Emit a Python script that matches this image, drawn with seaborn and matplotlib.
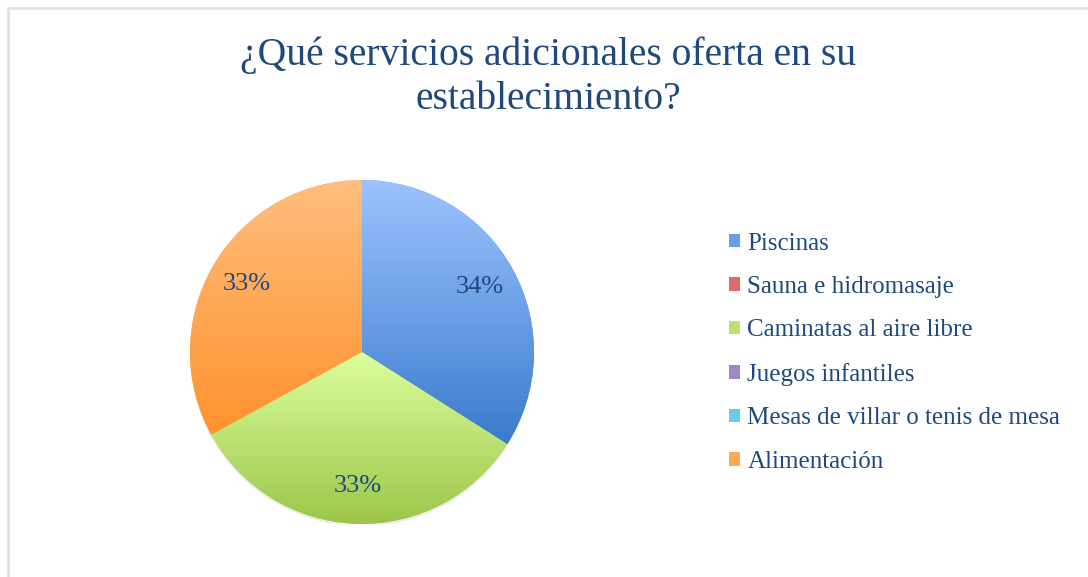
import matplotlib
matplotlib.use("Agg")
from matplotlib import pyplot as plt
from matplotlib.patches import Patch, Rectangle
from matplotlib.colors import LinearSegmentedColormap
import seaborn as sns
import numpy as np

servicios = ['Piscinas', 'Sauna e hidromasaje', 'Caminatas al aire libre',
             'Juegos infantiles', 'Mesas de villar o tenis de mesa', 'Alimentación']
porcentajes = [34, 0, 33, 0, 0, 33]

# (claro arriba, oscuro abajo) para el degradado de cada sector
claro = ['#9dc3ff', '#f59a98', '#dcff9d', '#c9b2ea', '#9fe6fa', '#ffbe7e']
oscuro = ['#3a7bcc', '#c9403c', '#9cc64a', '#7b5aa6', '#35aed0', '#ff922c']
medio = ['#6a9ee6', '#e06a67', '#bde273', '#a186c8', '#69cbe5', '#ffa855']

sns.set_theme(style="white")
plt.rcParams['font.family'] = ['Liberation Serif', 'DejaVu Serif']
texto = '#1f497d'

fig = plt.figure(figsize=(10.88, 5.77), dpi=100)
W, H = 1088, 577

# marco del grafico
fig.patches.append(Rectangle((8 / W, -0.1), 1.2, 1 - 8 / H + 0.1, transform=fig.transFigure,
                             fill=False, edgecolor='#d9e4f2', linewidth=2))

cx, cy, r = 362, 352, 172
ax = fig.add_axes([(cx - r) / W, (H - cy - r) / H, 2 * r / W, 2 * r / H])


def etiqueta(p):
    return '' if p < 0.5 else f'{p:.0f}%'


wedges, textos, autos = ax.pie(porcentajes, startangle=90, counterclock=False,
                               colors=medio, autopct=etiqueta, pctdistance=0.78,
                               textprops=dict(color=texto, fontsize=19))
ax.set_aspect('equal')

# sombra suave
sombra = plt.Circle((0.0, -0.015), 0.995, color='#000000', alpha=0.05, zorder=0)
ax.add_patch(sombra)

for w, c1, c2 in zip(wedges, claro, oscuro):
    w.set_edgecolor('none')
    if w.theta2 - w.theta1 < 0.01:
        continue
    ang = np.radians(np.linspace(w.theta1, w.theta2, 100))
    xs = np.concatenate([[0], np.cos(ang)])
    ys = np.concatenate([[0], np.sin(ang)])
    cmap = LinearSegmentedColormap.from_list('g', [c2, c1])
    grad = np.linspace(0, 1, 256).reshape(-1, 1)
    im = ax.imshow(grad, cmap=cmap, origin='lower', aspect='auto',
                   extent=[xs.min(), xs.max(), ys.min(), ys.max()], zorder=1)
    im.set_clip_path(w)
for t in autos:
    t.set_zorder(3)

ax.set_xlim(-1, 1)
ax.set_ylim(-1, 1)
ax.axis('off')

fig.text(548 / W, 1 - 77 / H, '¿Qué servicios adicionales oferta en su\nestablecimiento?',
         ha='center', va='center', fontsize=28.5, color=texto, linespacing=1.25)

handles = [Patch(facecolor=c, edgecolor='none') for c in medio]
leg = fig.legend(handles, servicios, loc='upper left', bbox_to_anchor=(716 / W, 1 - 220 / H),
                 frameon=False, fontsize=18, handlelength=0.45, handleheight=0.45,
                 handletextpad=0.3, labelspacing=0.86, borderpad=0)
for t in leg.get_texts():
    t.set_color(texto)

fig.savefig('out.png', dpi=100)
